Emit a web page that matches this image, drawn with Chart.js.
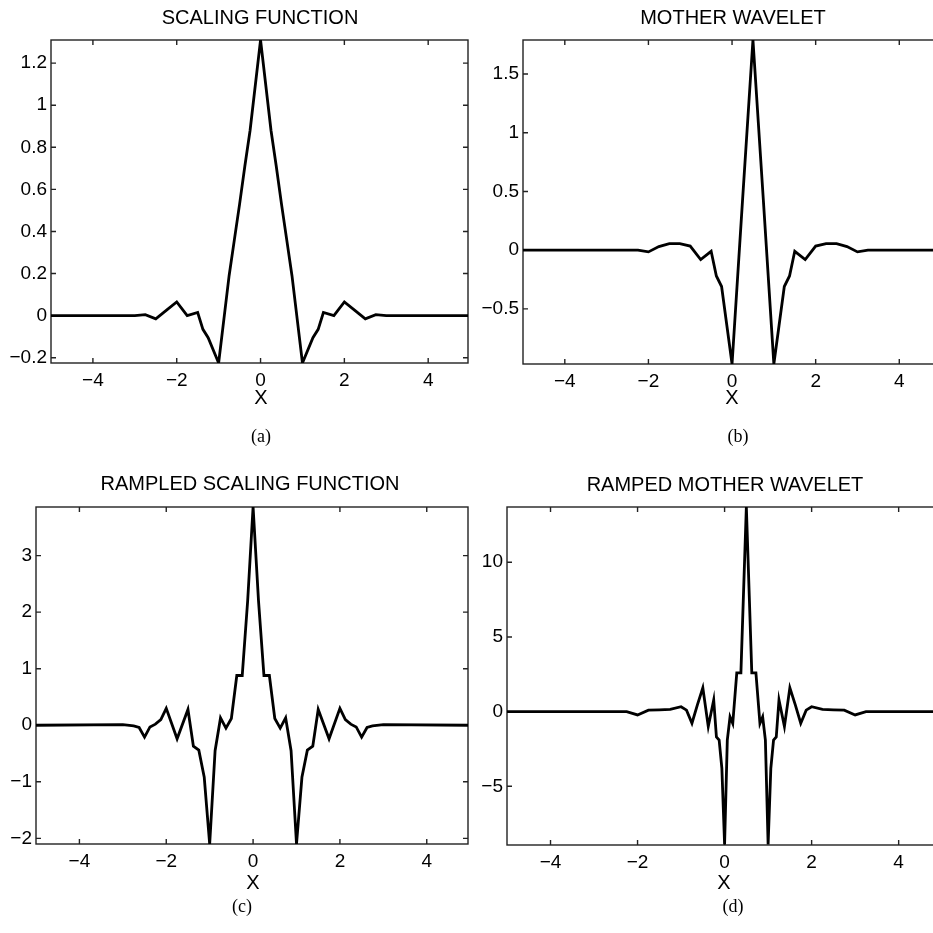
<!DOCTYPE html>
<html>
<head>
<meta charset="utf-8">
<script src="https://cdn.jsdelivr.net/npm/chart.js@4.4.1/dist/chart.umd.min.js"></script>
<style>
html, body { margin: 0; padding: 0; background: #fff; }
body { width: 933px; height: 933px; overflow: hidden; position: relative; font-family: "Liberation Sans", Arial, sans-serif; }
canvas { position: absolute; }
.lbl { position: absolute; transform: translate(-50%, -50%); white-space: nowrap; color: #000; }
.ttl { font-size: 20px; }
.ax { font-size: 20px; }
.cap { font-family: "Liberation Serif", "Times New Roman", serif; font-size: 18px; }
</style>
</head>
<body>
<canvas id="c0" width="480" height="420" style="left:0px;top:0px"></canvas>
<canvas id="c1" width="480" height="420" style="left:470px;top:0px"></canvas>
<canvas id="c2" width="480" height="440" style="left:0px;top:460px"></canvas>
<canvas id="c3" width="480" height="440" style="left:470px;top:460px"></canvas>

<div class="lbl ttl" style="left:260px;top:17px">SCALING FUNCTION</div>
<div class="lbl ttl" style="left:733px;top:17px">MOTHER WAVELET</div>
<div class="lbl ttl" style="left:250px;top:483px">RAMPLED SCALING FUNCTION</div>
<div class="lbl ttl" style="left:725px;top:484px">RAMPED MOTHER WAVELET</div>

<div class="lbl ax" style="left:261px;top:397px">X</div>
<div class="lbl ax" style="left:732px;top:397px">X</div>
<div class="lbl ax" style="left:253px;top:882px">X</div>
<div class="lbl ax" style="left:724px;top:882px">X</div>

<div class="lbl cap" style="left:261px;top:436px">(a)</div>
<div class="lbl cap" style="left:738px;top:436px">(b)</div>
<div class="lbl cap" style="left:242px;top:906px">(c)</div>
<div class="lbl cap" style="left:733px;top:906px">(d)</div>

<script>
'use strict';
const xTicks = [-4, -2, 0, 2, 4];

// (a) scaling function
const scalingX = [-5, -3, -2.75, -2.5, -2.25, -2, -1.75, -1.5, -1.375, -1.25, -1, -0.75, -0.625, -0.5, -0.375, -0.25, 0,
	0.25, 0.375, 0.5, 0.625, 0.75, 1, 1.25, 1.375, 1.5, 1.75, 2, 2.25, 2.5, 2.75, 3, 4.95];
const scalingY = [0, 0, 0.005, -0.015, 0.025, 0.065, 0.0, 0.015, -0.065, -0.105, -0.225, 0.19, 0.36, 0.53, 0.71, 0.88, 1.31,
	0.88, 0.71, 0.53, 0.36, 0.19, -0.225, -0.105, -0.065, 0.015, 0.0, 0.065, 0.025, -0.015, 0.005, 0, 0];
const scalingTicks = [-0.2, 0, 0.2, 0.4, 0.6, 0.8, 1, 1.2];

// (b) mother wavelet
const motherX = [-5, -2.25, -2, -1.75, -1.5, -1.25, -1, -0.75, -0.5, -0.375, -0.25, -0.125, 0, 0.25, 0.5,
	0.75, 1, 1.125, 1.25, 1.375, 1.5, 1.75, 2, 2.25, 2.5, 2.75, 3, 3.25, 4.95];
const motherY = [0, 0, -0.015, 0.03, 0.055, 0.055, 0.035, -0.08, -0.01, -0.22, -0.31, -0.64, -0.97, 0.42, 1.79,
	0.42, -0.97, -0.64, -0.31, -0.22, -0.01, -0.08, 0.035, 0.055, 0.055, 0.03, -0.015, 0, 0];
const motherTicks = [-0.5, 0, 0.5, 1, 1.5];

// (c) rampled scaling function
const rampX = [-5, -3, -2.75, -2.625, -2.5, -2.375, -2.25, -2.125, -2, -1.75, -1.5, -1.375, -1.25, -1.125, -1, -0.875,
	-0.75, -0.625, -0.5, -0.375, -0.25, -0.125, 0, 0.125, 0.25, 0.375, 0.5, 0.625, 0.75, 0.875, 1, 1.125, 1.25,
	1.375, 1.5, 1.75, 2, 2.125, 2.25, 2.375, 2.5, 2.625, 2.75, 3, 4.95];
const rampY = [0, 0.01, -0.01, -0.04, -0.21, -0.03, 0.02, 0.1, 0.3, -0.24, 0.28, -0.37, -0.44, -0.92, -2.1, -0.45,
	0.13, -0.05, 0.12, 0.88, 0.88, 2.2, 3.86, 2.2, 0.88, 0.88, 0.12, -0.05, 0.13, -0.45, -2.1, -0.92, -0.44,
	-0.37, 0.28, -0.24, 0.3, 0.1, 0.02, -0.03, -0.21, -0.04, -0.01, 0.01, 0];
const rampTicks = [-2, -1, 0, 1, 2, 3];

// (d) ramped mother wavelet
const rmX = [-5, -2.25, -2, -1.75, -1.5, -1.25, -1, -0.875, -0.75, -0.625, -0.5, -0.375, -0.25, -0.1875, -0.125, -0.0625, 0,
	0.0625, 0.125, 0.1875, 0.28, 0.375, 0.5, 0.625, 0.72, 0.8125, 0.875, 0.9375, 1, 1.0625, 1.125, 1.1875, 1.25, 1.375,
	1.5, 1.625, 1.75, 1.875, 2, 2.25, 2.5, 2.75, 3, 3.25, 4.95];
const rmY = [0, 0, -0.22, 0.1, 0.12, 0.15, 0.33, 0.1, -0.78, 0.45, 1.6, -1.0, 0.78, -1.7, -1.9, -3.8, -8.9,
	-1.9, -0.35, -0.8, 2.6, 2.6, 13.7, 2.6, 2.6, -0.8, -0.35, -1.9, -8.9, -3.8, -1.9, -1.7, 0.78, -1.0,
	1.6, 0.45, -0.78, 0.1, 0.33, 0.15, 0.12, 0.1, -0.22, 0, 0];
const rmTicks = [-5, 0, 5, 10];

// box around the axes with inward tick marks on all four sides
const frame = {
	id: 'frame',
	beforeDatasetsDraw(chart) {
		const {ctx, chartArea: a, scales: {x, y}} = chart;
		ctx.save();
		ctx.strokeStyle = '#222';
		ctx.lineWidth = 1.4;
		ctx.strokeRect(a.left, a.top, a.right - a.left, a.bottom - a.top);
		ctx.beginPath();
		x.ticks.forEach(t => {
			const px = x.getPixelForValue(t.value);
			ctx.moveTo(px, a.bottom); ctx.lineTo(px, a.bottom - 5);
			ctx.moveTo(px, a.top); ctx.lineTo(px, a.top + 5);
		});
		y.ticks.forEach(t => {
			const py = y.getPixelForValue(t.value);
			ctx.moveTo(a.left, py); ctx.lineTo(a.left + 5, py);
			ctx.moveTo(a.right, py); ctx.lineTo(a.right - 5, py);
		});
		ctx.stroke();
		ctx.restore();
	}
};

const fmt = v => String(v).replace('-', '\u2212');
const tickFont = {family: '"Liberation Sans", Arial, sans-serif', size: 19};

const panels = [
	{id: 'c0', xs: scalingX, ys: scalingY, ticks: scalingTicks, min: -0.225, max: 1.31, yW: 51, xH: 57, pad: {top: 40, right: 12, left: 0, bottom: 0}},
	{id: 'c1', xs: motherX, ys: motherY, ticks: motherTicks, min: -0.97, max: 1.79, yW: 53, xH: 56, pad: {top: 40, right: 11, left: 0, bottom: 0}},
	{id: 'c2', xs: rampX, ys: rampY, ticks: rampTicks, min: -2.1, max: 3.86, yW: 36, xH: 56, pad: {top: 47, right: 12, left: 0, bottom: 0}},
	{id: 'c3', xs: rmX, ys: rmY, ticks: rmTicks, min: -8.93, max: 13.7, yW: 37, xH: 55, pad: {top: 47, right: 10, left: 0, bottom: 0}}
];

panels.forEach(p => {
	new Chart(document.getElementById(p.id), {
		type: 'line',
		data: {
			datasets: [{
				data: p.xs.map((x, i) => ({x: x, y: p.ys[i]})),
				borderColor: '#000',
				borderWidth: 2.8,
				pointRadius: 0,
				tension: 0,
				fill: false
			}]
		},
		options: {
			responsive: false,
			animation: false,
			devicePixelRatio: 1,
			layout: {padding: p.pad},
			plugins: {legend: {display: false}, tooltip: {enabled: false}, title: {display: false}},
			scales: {
				x: {
					type: 'linear', min: -5, max: 4.95,
					afterBuildTicks: s => { s.ticks = xTicks.map(v => ({value: v})); },
					afterFit: s => { s.height = p.xH; },
					grid: {display: false, drawTicks: false},
					border: {display: false},
					ticks: {color: '#000', font: tickFont, padding: 6, maxRotation: 0, callback: fmt}
				},
				y: {
					type: 'linear', min: p.min, max: p.max,
					afterBuildTicks: s => { s.ticks = p.ticks.map(v => ({value: v})); },
					afterFit: s => { s.width = p.yW; },
					grid: {display: false, drawTicks: false},
					border: {display: false},
					ticks: {color: '#000', font: tickFont, padding: 4, callback: fmt}
				}
			}
		},
		plugins: [frame]
	});
});
</script>
</body>
</html>
